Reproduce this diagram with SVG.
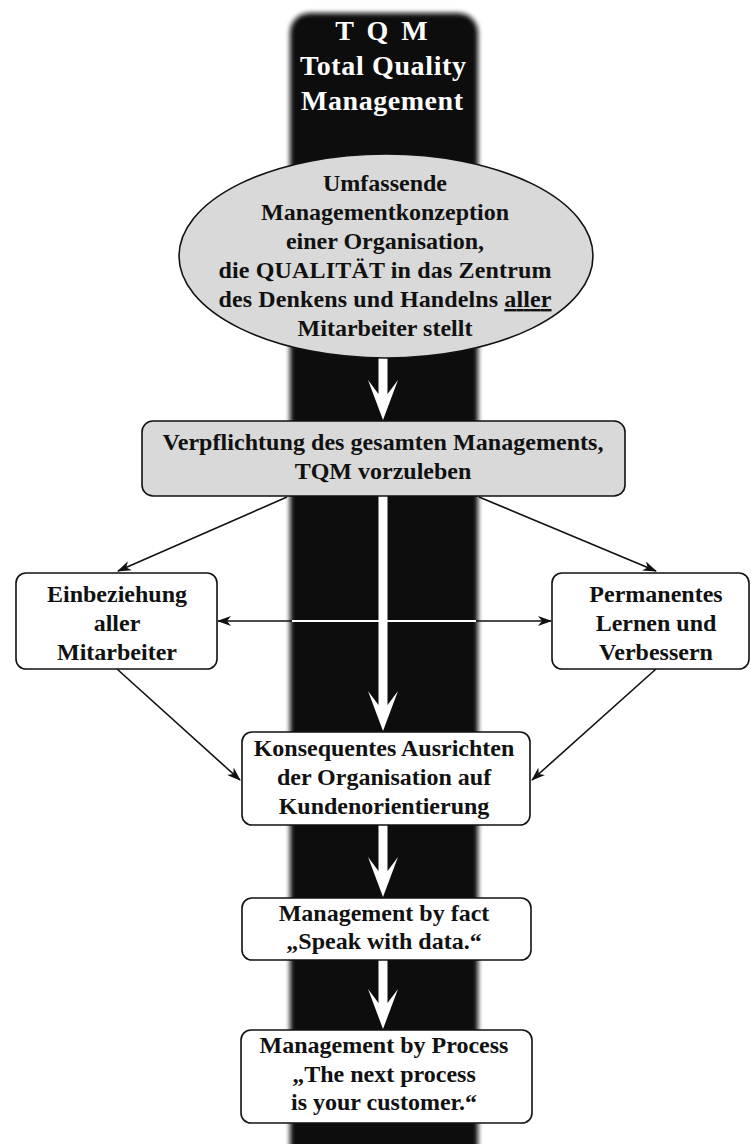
<svg xmlns="http://www.w3.org/2000/svg" width="751" height="1144" viewBox="0 0 751 1144">
<style>
.t{font-family:"Liberation Serif","Times New Roman",serif;font-weight:bold;font-size:24px;text-anchor:middle;fill:#111}
.ti{font-family:"Liberation Serif","Times New Roman",serif;font-weight:bold;font-size:28px;text-anchor:middle;fill:#fff}
.box{fill:#fff;stroke:#111;stroke-width:1.6}
.gbox{fill:#d9d9d9;stroke:#111;stroke-width:1.6}
.ln{stroke:#111;stroke-width:1.6;fill:none}
.wa{fill:#fff;stroke:none}
</style>
<defs>
<filter id="fz" x="-20%" y="-5%" width="140%" height="110%">
<feGaussianBlur stdDeviation="2.5"/>
</filter>
<marker id="ah" viewBox="0 0 14 10" refX="13" refY="5" markerWidth="14" markerHeight="10" markerUnits="userSpaceOnUse" orient="auto">
<path d="M0,0 L14,5 L0,10 L4,5 z" fill="#111"/>
</marker>
</defs>
<rect width="751" height="1144" fill="#fff"/>
<g id="band">
<rect x="290" y="13" width="188" height="1160" rx="20" fill="#0d0d0d" filter="url(#fz)"/>
</g>
<g id="title">
<text class="ti" x="383" y="40" letter-spacing="3">T Q M</text>
<text class="ti" x="383" y="75" textLength="166">Total Quality</text>
<text class="ti" x="382" y="110" textLength="162">Management</text>
</g>
<g id="connectors">
<polygon class="wa" points="378.5,356 378.5,394 368,380 383,420 398,380 387.5,394 387.5,356"/>
<polygon class="wa" points="378.5,495 378.5,705 368,691 383,731 398,691 387.5,705 387.5,495"/>
<polygon class="wa" points="378.5,824 378.5,871 368,857 383,897 398,857 387.5,871 387.5,824"/>
<polygon class="wa" points="378.5,959 378.5,1003 368,989 383,1029 398,989 387.5,1003 387.5,959"/>
<line class="ln" x1="287" y1="497" x2="118" y2="571" marker-end="url(#ah)"/>
<line class="ln" x1="479" y1="497" x2="656" y2="571" marker-end="url(#ah)"/>
<line class="ln" x1="294" y1="621" x2="218" y2="621" marker-end="url(#ah)"/>
<line class="ln" x1="474" y1="621" x2="551" y2="621" marker-end="url(#ah)"/>
<line x1="292" y1="621" x2="476" y2="621" stroke="#fff" stroke-width="2"/>
<line class="ln" x1="117" y1="669" x2="240" y2="780" marker-end="url(#ah)"/>
<line class="ln" x1="656" y1="669" x2="532" y2="780" marker-end="url(#ah)"/>
</g>
<g id="ellipse">
<ellipse cx="386" cy="256" rx="207" ry="102" class="gbox"/>
<text class="t" x="385" y="191">Umfassende</text>
<text class="t" x="385" y="220">Managementkonzeption</text>
<text class="t" x="385" y="249">einer Organisation,</text>
<text class="t" x="385" y="278" textLength="333">die QUALITÄT in das Zentrum</text>
<text class="t" x="385" y="307" textLength="333">des Denkens und Handelns <tspan text-decoration="underline">aller</tspan></text>
<text class="t" x="385" y="336">Mitarbeiter stellt</text>
</g>
<g id="verpflichtung">
<rect x="142" y="421" width="483" height="75" rx="11" class="gbox"/>
<text class="t" x="383" y="450" textLength="441">Verpflichtung des gesamten Managements,</text>
<text class="t" x="383" y="479">TQM vorzuleben</text>
</g>
<g id="einbeziehung">
<rect x="16" y="573" width="201" height="96" rx="10" class="box"/>
<text class="t" x="117" y="602">Einbeziehung</text>
<text class="t" x="117" y="631">aller</text>
<text class="t" x="117" y="660">Mitarbeiter</text>
</g>
<g id="permanentes">
<rect x="552" y="573" width="197" height="96" rx="10" class="box"/>
<text class="t" x="656" y="602">Permanentes</text>
<text class="t" x="656" y="631">Lernen und</text>
<text class="t" x="656" y="660">Verbessern</text>
</g>
<g id="konsequentes">
<rect x="242" y="732" width="288" height="93" rx="10" class="box"/>
<text class="t" x="384" y="756">Konsequentes Ausrichten</text>
<text class="t" x="384" y="785">der Organisation auf</text>
<text class="t" x="384" y="814">Kundenorientierung</text>
</g>
<g id="fact">
<rect x="242" y="898" width="289" height="62" rx="10" class="box"/>
<text class="t" x="384" y="921">Management by fact</text>
<text class="t" x="384" y="949">„Speak with data.“</text>
</g>
<g id="process">
<rect x="241" y="1030" width="291" height="93" rx="10" class="box"/>
<text class="t" x="384" y="1053">Management by Process</text>
<text class="t" x="384" y="1082">„The next process</text>
<text class="t" x="384" y="1110">is your customer.“</text>
</g>
</svg>
